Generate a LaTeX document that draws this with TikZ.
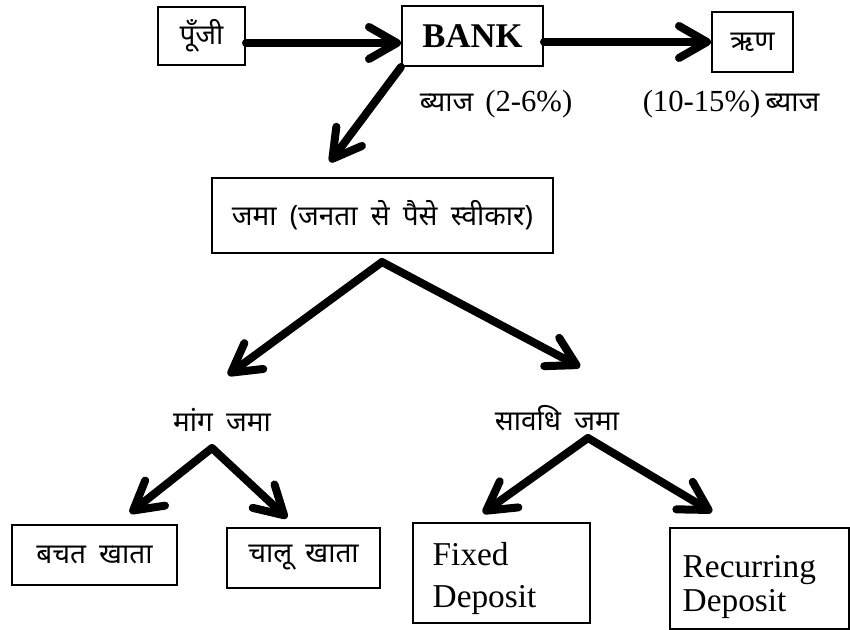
\documentclass[tikz,border=0pt]{standalone}
\usepackage{fontspec}
\setmainfont{Liberation Serif}
\newfontfamily\dev[Script=Devanagari,WordSpace=1.8]{Noto Sans}
\usetikzlibrary{arrows.meta,calc}
\begin{document}
\begin{tikzpicture}[x=0.75pt,y=-0.75pt,
  box/.style={draw,line width=1.5pt,inner sep=0pt},
  arr/.style={line width=6pt,line cap=round,-{Straight Barb[round,length=21pt,width=24pt]}},
  dv/.style={font=\dev\fontsize{21}{25}\selectfont},
  lt/.style={font=\fontsize{25}{30}\selectfont}]
\useasboundingbox[fill=white] (0,0) rectangle (850,630);

% boxes
\node[box,dv,minimum width=65.25pt,minimum height=43.5pt] (punji) at (201.5,36) {पूँजी};
\node[box,font=\bfseries\fontsize{26}{30}\selectfont,minimum width=105.75pt,minimum height=45pt] (bank) at (472.5,36) {BANK};
\node[box,dv,minimum width=60.75pt,minimum height=45pt] (rin) at (752.5,42) {ऋण};
\node[dv] (byaj1) at (496,104) {ब्याज\hspace{9pt}{\rmfamily\fontsize{23}{28}\selectfont(2-6\%)}};
\node[dv] (byaj2) at (731,104) {{\rmfamily\fontsize{23}{28}\selectfont(10-15\%)}\hspace{4pt}ब्याज};
\node[box,dv,minimum width=255.75pt,minimum height=56.25pt] (jama) at (382.5,215.5) {जमा (जनता से पैसे स्वीकार)};
\node[dv] (mang) at (222,420) {मांग जमा};
\node[dv] (savadhi) at (557,418) {सावधि जमा};
\node[box,dv,minimum width=123.75pt,minimum height=45pt] (bachat) at (94.5,555) {बचत खाता};
\node[box,dv,minimum width=114.75pt,minimum height=45pt] (chalu) at (303.5,558) {चालू खाता};
\node[box,minimum width=132.75pt,minimum height=75pt] (fixed) at (501.5,573) {};
\node[anchor=west,align=left,font=\fontsize{25}{32}\selectfont] (fixedtext) at (428,578.5) {Fixed\\Deposit};
\node[box,minimum width=134.25pt,minimum height=75.75pt] (recurring) at (759.5,578.5) {};
\node[anchor=west,align=left,font=\fontsize{25}{26}\selectfont] (recurringtext) at (678,587) {Recurring\\Deposit};

% coordinates
\coordinate (tipJ) at (330,162);
\coordinate (apexJ) at (382,262);
\coordinate (tipJL) at (228,375);
\coordinate (tipJR) at (580,367);
\coordinate (apexM) at (212,448);
\coordinate (tipML) at (130,513);
\coordinate (tipMR) at (287,518);
\coordinate (apexS) at (588,438);
\coordinate (tipSL) at (483,513);
\coordinate (tipSR) at (712,512);

% connectors
\draw[arr] ($(punji.east)+(0,7)$) -- ($(bank.west)+(0,7)$);
\draw[arr] ($(bank.east)+(0,6)$) -- (rin.west);
\draw[arr] (bank.south west) -- (tipJ);
\draw[arr] (apexJ) -- (tipJL);
\draw[arr] (apexJ) -- (tipJR);
\draw[arr] (apexM) -- (tipML);
\draw[arr] (apexM) -- (tipMR);
\draw[arr] (apexS) -- (tipSL);
\draw[arr] (apexS) -- (tipSR);
\end{tikzpicture}
\end{document}
